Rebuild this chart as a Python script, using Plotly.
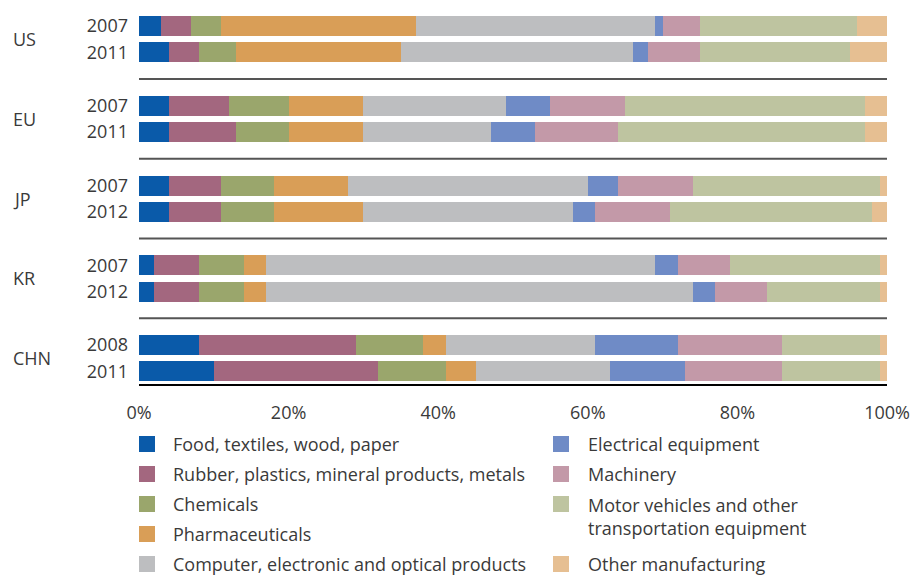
import plotly.graph_objects as go

countries = ["US", "EU", "JP", "KR", "CHN"]
years = [["2007", "2011"], ["2007", "2011"], ["2007", "2012"], ["2007", "2012"], ["2008", "2011"]]

categories = [
    "Food, textiles, wood, paper",
    "Rubber, plastics, mineral products, metals",
    "Chemicals",
    "Pharmaceuticals",
    "Computer, electronic and optical products",
    "Electrical equipment",
    "Machinery",
    "Motor vehicles and other<br>transportation equipment",
    "Other manufacturing",
]
colors = ["#0a5aa9", "#a3677f", "#9aa66c", "#d99e57", "#bdbec0",
          "#6f8bc6", "#c399a8", "#bec4a0", "#e6bf92"]

# rows: US07, US11, EU07, EU11, JP07, JP12, KR07, KR12, CHN08, CHN11
food       = [3, 4, 4, 4, 4, 4, 2, 2, 8, 10]
rubber     = [4, 4, 8, 9, 7, 7, 6, 6, 21, 22]
chemicals  = [4, 5, 8, 7, 7, 7, 6, 6, 9, 9]
pharma     = [26, 22, 10, 10, 10, 12, 3, 3, 3, 4]
computer   = [32, 31, 19, 17, 32, 28, 52, 57, 20, 18]
electrical = [1, 2, 6, 6, 4, 3, 3, 3, 11, 10]
machinery  = [5, 7, 10, 11, 10, 10, 7, 7, 14, 13]
motor      = [21, 20, 32, 33, 25, 27, 20, 15, 13, 13]
other      = [4, 5, 3, 3, 1, 2, 1, 1, 1, 1]
series = [food, rubber, chemicals, pharma, computer, electrical, machinery, motor, other]

xticks = [0, 20, 40, 60, 80, 100]

# layout geometry (pixel-like units on y axis)
PLOT_H = 384
OFFSET = 26
GROUP_PITCH = 79.75
ROW_PITCH = 26.25
BAR_W = 20
ML, MR = 139, 24

ypos, ytext = [], []
for g, yrs in enumerate(years):
    for r, yr in enumerate(yrs):
        ypos.append(OFFSET + g * GROUP_PITCH + r * ROW_PITCH)
        ytext.append(yr)

FONT = "Open Sans"
TXT = "#3a3a3a"
FS = 18

fig = go.Figure()
for name, vals, col in zip(categories, series, colors):
    fig.add_trace(go.Bar(
        x=vals, y=ypos, orientation="h", width=BAR_W, name=name,
        marker=dict(color=col, line=dict(width=0)), showlegend=False,
    ))

shapes = []
for g in range(len(countries) - 1):
    ysep = (ypos[2 * g + 1] + ypos[2 * g + 2]) / 2
    shapes.append(dict(type="line", xref="x", yref="y", x0=0, x1=100, y0=ysep, y1=ysep,
                       line=dict(color="#555555", width=2)))

annotations = []
for g, c in enumerate(countries):
    yc = (ypos[2 * g] + ypos[2 * g + 1]) / 2
    annotations.append(dict(text=c, xref="paper", yref="y", x=(11 - ML) / 748, y=yc,
                            xanchor="left", yanchor="middle", showarrow=False,
                            font=dict(family=FONT, size=FS, color=TXT)))

def py2paper(py):
    return (PLOT_H - py) / PLOT_H

def px2paper(px):
    return (px - ML) / 748

# custom two-column legend
col_items = [[0, 1, 2, 3, 4], [5, 6, 7, None, 8]]
col_sw = [139, 553]
col_tx = [171, 586]
LEG_Y0, LEG_PITCH = 444, 30
for ci, items in enumerate(col_items):
    for ri, idx in enumerate(items):
        if idx is None:
            continue
        yc = LEG_Y0 + ri * LEG_PITCH
        shapes.append(dict(type="rect", xref="paper", yref="paper",
                           x0=px2paper(col_sw[ci]), x1=px2paper(col_sw[ci] + 16),
                           y0=py2paper(yc - 8), y1=py2paper(yc + 8),
                           fillcolor=colors[idx], line=dict(width=0)))
        if "<br>" in categories[idx]:
            annotations.append(dict(text=categories[idx], xref="paper", yref="paper",
                                    x=px2paper(col_tx[ci]), y=py2paper(yc - 13),
                                    xanchor="left", yanchor="top", align="left", showarrow=False,
                                    font=dict(family=FONT, size=FS, color=TXT)))
        else:
            annotations.append(dict(text=categories[idx], xref="paper", yref="paper",
                                    x=px2paper(col_tx[ci]), y=py2paper(yc),
                                    xanchor="left", yanchor="middle", showarrow=False,
                                    font=dict(family=FONT, size=FS, color=TXT)))

fig.update_layout(
    barmode="stack",
    width=911, height=576,
    margin=dict(l=ML, r=MR, t=0, b=576 - PLOT_H, pad=0),
    plot_bgcolor="white", paper_bgcolor="white",
    shapes=shapes, annotations=annotations,
    bargap=0,
)
fig.update_xaxes(range=[0, 100], tickvals=xticks, ticktext=[f"{v}%" for v in xticks],
                 showgrid=False, zeroline=False, showline=True, linecolor="black", linewidth=1.5,
                 ticks="", ticklabelstandoff=12,
                 tickfont=dict(family=FONT, size=FS, color=TXT), fixedrange=True)
fig.update_yaxes(range=[PLOT_H, 0], tickvals=ypos, ticktext=ytext,
                 showgrid=False, zeroline=False, showline=False, ticks="",
                 ticklabelstandoff=10,
                 tickfont=dict(family=FONT, size=FS, color=TXT), fixedrange=True)

fig.write_html("out.html", config={"displayModeBar": False},
               post_script="document.body.style.margin='0px';document.body.style.overflow='hidden';")
